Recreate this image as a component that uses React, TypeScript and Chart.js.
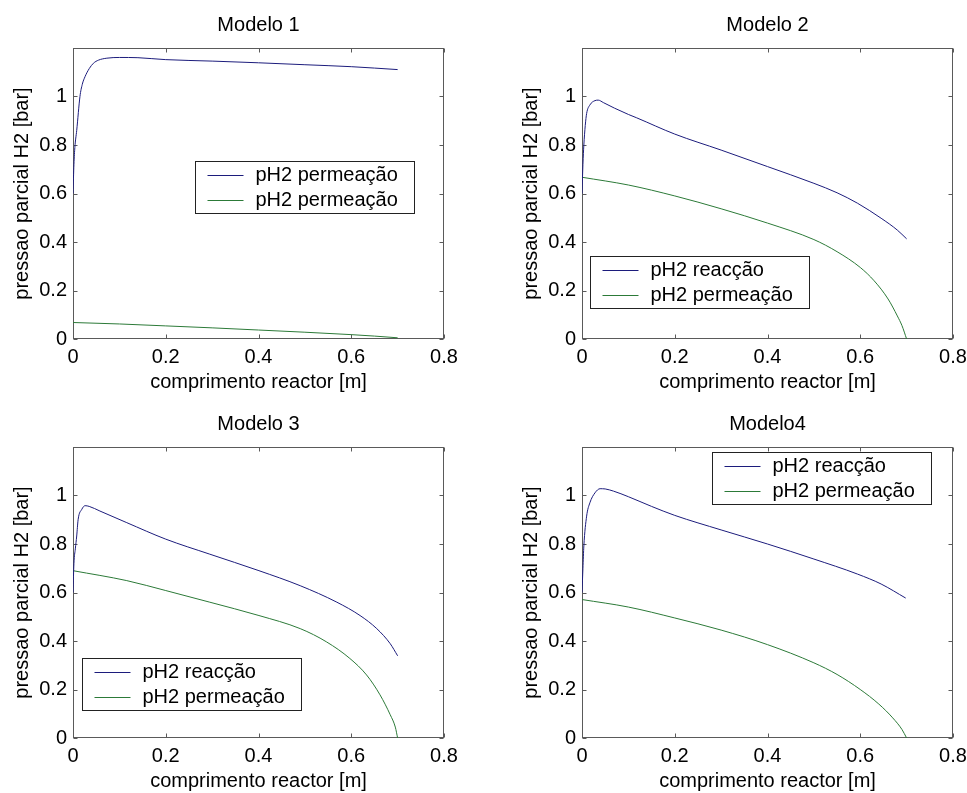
import React, { useEffect, useRef } from 'react';
import { Chart, registerables } from 'chart.js';

Chart.register(...registerables);

const FONT = '"Liberation Sans", Arial, Helvetica, sans-serif';
const BLUE = '#1c1c7c';
const GREEN = '#2c7a38';

const X_TICKS = [0, 0.2, 0.4, 0.6, 0.8];
const Y_TICKS = [0, 0.2, 0.4, 0.6, 0.8, 1];

const LABEL_REAC = 'pH2 reacção';
const LABEL_PERM = 'pH2 permeação';

// Modelo 1
const M1_REAC_X = [0, 0.002, 0.004, 0.008, 0.015, 0.02, 0.026, 0.035, 0.044, 0.055, 0.073, 0.1, 0.14, 0.2, 0.3, 0.4, 0.5, 0.6, 0.7];
const M1_REAC_Y = [0.6, 0.72, 0.79, 0.86, 1.0, 1.05, 1.082, 1.115, 1.137, 1.15, 1.158, 1.161, 1.16, 1.152, 1.146, 1.139, 1.131, 1.123, 1.111];
const M1_PERM_X = [0, 0.1, 0.2, 0.3, 0.4, 0.5, 0.6, 0.65, 0.7];
const M1_PERM_Y = [0.068, 0.062, 0.054, 0.046, 0.037, 0.028, 0.018, 0.012, 0.005];

// Modelo 2
const M2_REAC_X = [0, 0.002, 0.004, 0.007, 0.01, 0.017, 0.028, 0.035, 0.046, 0.07, 0.1, 0.118, 0.2, 0.3, 0.4, 0.5, 0.55, 0.594, 0.645, 0.68, 0.7];
const M2_REAC_Y = [0.6, 0.72, 0.8, 0.88, 0.93, 0.965, 0.983, 0.985, 0.975, 0.952, 0.926, 0.912, 0.845, 0.779, 0.711, 0.642, 0.603, 0.56, 0.498, 0.449, 0.413];
const M2_PERM_X = [0, 0.1, 0.2, 0.3, 0.4, 0.5, 0.55, 0.6, 0.63, 0.66, 0.68, 0.69, 0.7];
const M2_PERM_Y = [0.667, 0.635, 0.59, 0.537, 0.478, 0.41, 0.36, 0.295, 0.24, 0.165, 0.095, 0.055, 0.0];

// Modelo 3
const M3_REAC_X = [0, 0.002, 0.005, 0.008, 0.011, 0.019, 0.026, 0.035, 0.058, 0.116, 0.2, 0.295, 0.401, 0.49, 0.569, 0.619, 0.655, 0.684, 0.7];
const M3_REAC_Y = [0.6, 0.72, 0.78, 0.833, 0.9, 0.943, 0.958, 0.955, 0.936, 0.888, 0.82, 0.758, 0.69, 0.628, 0.56, 0.505, 0.451, 0.389, 0.339];
const M3_PERM_X = [0, 0.116, 0.2, 0.295, 0.401, 0.49, 0.547, 0.597, 0.633, 0.662, 0.684, 0.695, 0.7];
const M3_PERM_Y = [0.69, 0.649, 0.608, 0.56, 0.505, 0.451, 0.396, 0.328, 0.26, 0.178, 0.096, 0.045, 0.0];

// Modelo 4
const M4_REAC_X = [0, 0.002, 0.004, 0.01, 0.017, 0.028, 0.039, 0.05, 0.068, 0.1, 0.15, 0.2, 0.3, 0.4, 0.5, 0.594, 0.645, 0.698];
const M4_REAC_Y = [0.6, 0.7, 0.792, 0.915, 0.97, 1.011, 1.028, 1.027, 1.018, 0.995, 0.955, 0.918, 0.858, 0.8, 0.738, 0.676, 0.635, 0.577];
const M4_PERM_X = [0, 0.1, 0.2, 0.3, 0.4, 0.5, 0.55, 0.6, 0.64, 0.67, 0.69, 0.7];
const M4_PERM_Y = [0.571, 0.54, 0.495, 0.445, 0.385, 0.31, 0.262, 0.2, 0.14, 0.083, 0.035, 0.0];

type Series = { label: string; x: number[]; y: number[]; color: string };

const CANVAS_W = 483;
const CANVAS_H = 400;

const textFont = { family: FONT, size: 20, weight: 'normal' as const, lineHeight: 1.2 };

const fmtTick = (v: number | string) => String(Number(Number(v).toFixed(2)));

// Axes box with inward tick marks on all four sides (MATLAB style)
const framePlugin = {
  id: 'frameBox',
  beforeDatasetsDraw(chart: any) {
    const { ctx, chartArea, scales } = chart;
    const l = Math.round(chartArea.left) + 0.5;
    const r = Math.round(chartArea.right) - 0.5;
    const t = Math.round(chartArea.top) + 0.5;
    const b = Math.round(chartArea.bottom) - 0.5;
    const len = 4;
    ctx.save();
    ctx.strokeStyle = '#5a5a5a';
    ctx.lineWidth = 1;
    ctx.strokeRect(l, t, r - l, b - t);
    ctx.beginPath();
    for (const tk of scales.x.ticks) {
      const px = Math.round(scales.x.getPixelForValue(tk.value)) + 0.5;
      ctx.moveTo(px, b);
      ctx.lineTo(px, b - len);
      ctx.moveTo(px, t);
      ctx.lineTo(px, t + len);
    }
    for (const tk of scales.y.ticks) {
      const py = Math.round(scales.y.getPixelForValue(tk.value)) + 0.5;
      ctx.moveTo(l, py);
      ctx.lineTo(l + len, py);
      ctx.moveTo(r, py);
      ctx.lineTo(r - len, py);
    }
    ctx.stroke();
    ctx.restore();
  },
};

// Boxed legend placed inside the axes
const boxLegendPlugin = {
  id: 'boxLegend',
  afterDraw(chart: any, _args: any, opts: any) {
    const { ctx, chartArea } = chart;
    const datasets = chart.data.datasets;
    ctx.save();
    ctx.font = `20px ${FONT}`;
    let maxW = 0;
    for (const ds of datasets) maxW = Math.max(maxW, ctx.measureText(ds.label).width);
    const rowH = 25;
    const w = Math.round(60 + maxW + 17);
    const h = rowH * datasets.length + 2;
    const x0 = Math.round(chartArea.left + opts.left) + 0.5;
    const y0 = Math.round(chartArea.top + opts.top) + 0.5;
    ctx.fillStyle = '#ffffff';
    ctx.fillRect(x0, y0, w, h);
    ctx.strokeStyle = '#222222';
    ctx.lineWidth = 1;
    ctx.strokeRect(x0, y0, w, h);
    datasets.forEach((ds: any, i: number) => {
      const cy = Math.round(y0 + 13 + i * rowH) + 0.5;
      ctx.strokeStyle = ds.borderColor;
      ctx.beginPath();
      ctx.moveTo(x0 + 12, cy);
      ctx.lineTo(x0 + 48, cy);
      ctx.stroke();
      ctx.fillStyle = '#000000';
      ctx.textBaseline = 'middle';
      ctx.textAlign = 'left';
      ctx.fillText(ds.label, x0 + 60, cy);
    });
    ctx.restore();
  },
};

type PanelProps = {
  title: string;
  series: Series[];
  legendLeft: number;
  legendTop: number;
  left: number;
  top: number;
};

function Panel({ title, series, legendLeft, legendTop, left, top }: PanelProps) {
  const ref = useRef<HTMLCanvasElement>(null);

  useEffect(() => {
    if (!ref.current) return;
    const chart = new Chart(ref.current, {
      type: 'line',
      data: {
        datasets: series.map((s) => ({
          label: s.label,
          data: s.x.map((x, i) => ({ x, y: s.y[i] })),
          borderColor: s.color,
          backgroundColor: s.color,
          borderWidth: 1,
          pointRadius: 0,
          cubicInterpolationMode: 'monotone' as const,
          fill: false,
        })),
      },
      options: {
        responsive: false,
        animation: false,
        events: [],
        layout: { padding: { left: 0, right: 39, top: 0, bottom: 0 } },
        plugins: {
          legend: { display: false },
          tooltip: { enabled: false },
          title: {
            display: true,
            text: title,
            fullSize: false,
            color: '#000',
            font: textFont,
            padding: { top: 13.5, bottom: 10.5 },
          },
          boxLegend: { left: legendLeft, top: legendTop },
        } as any,
        scales: {
          x: {
            type: 'linear',
            min: 0,
            max: 0.8,
            afterBuildTicks: (s: any) => {
              s.ticks = X_TICKS.map((v) => ({ value: v }));
            },
            afterFit: (s: any) => {
              s.height = 61;
            },
            grid: { display: false, drawTicks: false },
            border: { display: false },
            ticks: { color: '#000', font: textFont, padding: 6, maxRotation: 0, autoSkip: false, callback: fmtTick },
            title: {
              display: true,
              text: 'comprimento reactor [m]',
              color: '#000',
              font: textFont,
              padding: { top: 0, bottom: 6 },
            },
          },
          y: {
            type: 'linear',
            min: 0,
            max: 1.2,
            afterBuildTicks: (s: any) => {
              s.ticks = Y_TICKS.map((v) => ({ value: v }));
            },
            afterFit: (s: any) => {
              s.width = 73;
            },
            grid: { display: false, drawTicks: false },
            border: { display: false },
            ticks: { color: '#000', font: textFont, padding: 6, autoSkip: false, callback: fmtTick },
            title: {
              display: true,
              text: 'pressao parcial H2 [bar]',
              color: '#000',
              font: textFont,
              padding: { top: 10, bottom: 0 },
            },
          },
        },
      } as any,
      plugins: [framePlugin, boxLegendPlugin],
    });
    return () => chart.destroy();
  }, []);

  return (
    <canvas
      ref={ref}
      width={CANVAS_W}
      height={CANVAS_H}
      style={{ position: 'absolute', left, top, width: CANVAS_W, height: CANVAS_H }}
    />
  );
}

export default function App() {
  return (
    <div
      style={{
        position: 'absolute',
        left: 0,
        top: 0,
        width: 967,
        height: 793,
        overflow: 'hidden',
        background: '#ffffff',
      }}
    >
      <Panel
        title="Modelo 1"
        left={0}
        top={0}
        legendLeft={122}
        legendTop={113}
        series={[
          { label: LABEL_PERM, x: M1_REAC_X, y: M1_REAC_Y, color: BLUE },
          { label: LABEL_PERM, x: M1_PERM_X, y: M1_PERM_Y, color: GREEN },
        ]}
      />
      <Panel
        title="Modelo 2"
        left={509}
        top={0}
        legendLeft={8}
        legendTop={208}
        series={[
          { label: LABEL_REAC, x: M2_REAC_X, y: M2_REAC_Y, color: BLUE },
          { label: LABEL_PERM, x: M2_PERM_X, y: M2_PERM_Y, color: GREEN },
        ]}
      />
      <Panel
        title="Modelo 3"
        left={0}
        top={399}
        legendLeft={9}
        legendTop={211}
        series={[
          { label: LABEL_REAC, x: M3_REAC_X, y: M3_REAC_Y, color: BLUE },
          { label: LABEL_PERM, x: M3_PERM_X, y: M3_PERM_Y, color: GREEN },
        ]}
      />
      <Panel
        title="Modelo4"
        left={509}
        top={399}
        legendLeft={130}
        legendTop={5}
        series={[
          { label: LABEL_REAC, x: M4_REAC_X, y: M4_REAC_Y, color: BLUE },
          { label: LABEL_PERM, x: M4_PERM_X, y: M4_PERM_Y, color: GREEN },
        ]}
      />
    </div>
  );
}
